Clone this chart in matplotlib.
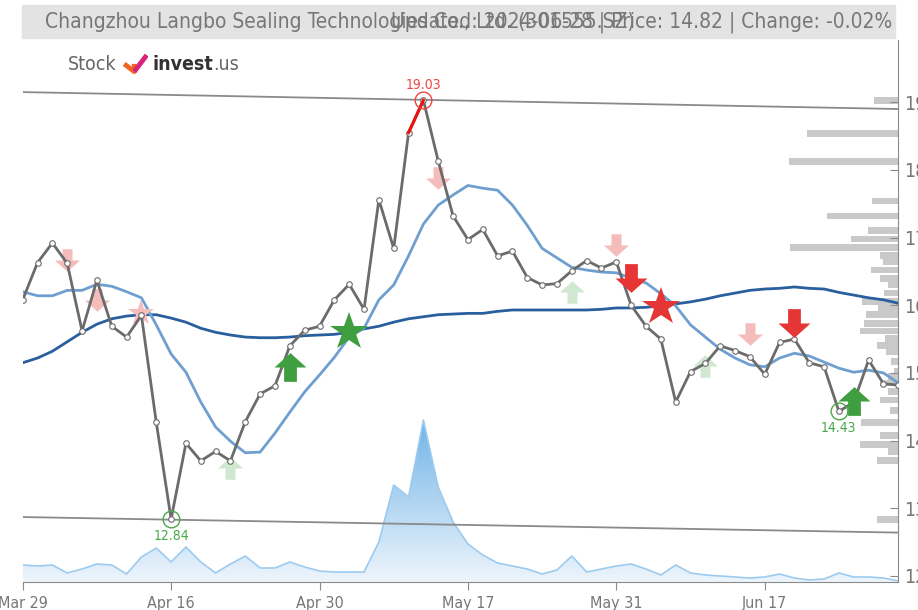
import numpy as np
import matplotlib
matplotlib.use("Agg")
import matplotlib.pyplot as plt
from matplotlib.path import Path
from matplotlib.patches import Rectangle
from matplotlib.colors import LinearSegmentedColormap

plt.rcParams['font.family'] = ['Liberation Sans Narrow', 'DejaVu Sans']
plt.rcParams['font.stretch'] = 'condensed'

# daily closes, 2024-03-29 .. 2024-06-28 (trading days)
close = [16.08, 16.63, 16.92, 16.62, 15.62, 16.37, 15.69, 15.53, 15.85, 14.27,
         12.84, 13.96, 13.70, 13.84, 13.70, 14.28, 14.69, 14.81, 15.40, 15.63,
         15.69, 16.08, 16.31, 15.94, 17.56, 16.84, 18.55, 19.03, 18.13, 17.32,
         16.97, 17.12, 16.73, 16.80, 16.41, 16.30, 16.32, 16.51, 16.66, 16.55,
         16.64, 16.00, 15.69, 15.50, 14.57, 15.02, 15.14, 15.40, 15.33, 15.24,
         14.98, 15.45, 15.50, 15.15, 15.09, 14.43, 14.57, 15.19, 14.84, 14.82]
ma_short = [16.20, 16.14, 16.14, 16.22, 16.22, 16.31, 16.28, 16.20, 16.11, 15.71,
            15.28, 15.01, 14.57, 14.20, 13.99, 13.82, 13.83, 14.11, 14.42, 14.72,
            14.97, 15.23, 15.53, 15.66, 16.08, 16.30, 16.73, 17.20, 17.48, 17.63,
            17.77, 17.73, 17.70, 17.48, 17.18, 16.84, 16.70, 16.56, 16.52, 16.49,
            16.48, 16.40, 16.33, 16.17, 15.99, 15.71, 15.53, 15.35, 15.22, 15.12,
            15.09, 15.22, 15.29, 15.25, 15.16, 15.07, 15.01, 15.04, 15.00, 14.85]
ma_long = [15.15, 15.22, 15.32, 15.46, 15.60, 15.72, 15.80, 15.84, 15.86, 15.86,
           15.81, 15.75, 15.66, 15.60, 15.56, 15.53, 15.52, 15.52, 15.53, 15.55,
           15.56, 15.57, 15.60, 15.65, 15.69, 15.75, 15.80, 15.83, 15.86, 15.87,
           15.88, 15.88, 15.91, 15.93, 15.93, 15.93, 15.93, 15.93, 15.93, 15.94,
           15.96, 15.96, 15.97, 15.99, 16.02, 16.05, 16.09, 16.14, 16.18, 16.22,
           16.24, 16.25, 16.27, 16.25, 16.24, 16.19, 16.15, 16.11, 16.08, 16.03]
volume = [17, 16, 17, 9, 13, 18, 17, 8, 25, 34,
          20, 35, 20, 9, 18, 26, 14, 14, 20, 15,
          11, 10, 10, 10, 40, 97, 85, 162, 95, 60,
          38, 27, 19, 16, 13, 8, 12, 26, 10, 13,
          16, 18, 13, 7, 17, 9, 7, 6, 5, 4,
          5, 8, 4, 2, 3, 9, 5, 5, 4, 1]
tick_idx = [0, 10, 20, 30, 40, 50]
tick_labels = ["Mar 29", "Apr 16", "Apr 30", "May 17", "May 31", "Jun 17"]
price_ticks = [12, 13, 14, 15, 16, 17, 18, 19]

upper_trend = [19.15, 18.90]
lower_trend = [12.87, 12.64]

profile_price = [19.03, 18.54, 18.13, 17.54, 17.32, 17.11, 16.98, 16.85, 16.74, 16.64,
                 16.52, 16.40, 16.30, 16.18, 16.06, 15.95, 15.86, 15.73, 15.62, 15.51,
                 15.41, 15.31, 15.17, 15.03, 14.95, 14.85, 14.73, 14.60, 14.45, 14.27,
                 14.08, 13.94, 13.84, 13.71, 12.83]
profile_vol = [24, 91, 109, 26, 71, 30, 47, 108, 18, 15,
               27, 18, 10, 14, 36, 20, 32, 34, 38, 13,
               21, 12, 7, 4, 10, 18, 10, 18, 8, 37,
               18, 38, 10, 21, 21]

sig_idx = [3, 5, 8, 14, 18, 22, 28, 37, 40, 41, 43, 46, 49, 52, 56]
sig_price = [16.67, 16.08, 15.88, 13.60, 15.09, 15.60, 17.88, 16.19, 16.89, 16.40,
             15.97, 15.10, 15.57, 15.74, 14.58]
sig_kind = ["weak_sell", "weak_sell", "weak_star", "weak_buy", "buy", "buy_star",
            "weak_sell", "weak_buy", "weak_sell", "sell", "sell_star", "weak_buy",
            "weak_sell", "sell", "buy"]

hi_idx, lo_idx, lo2_idx = 27, 10, 55

# ---- figure ----
W, H = 918, 610
fig = plt.figure(figsize=(W / 100, H / 100), dpi=100)
rect = [22.7 / W, 1 - 582 / H, (898.3 - 22.7) / W, (582 - 40) / H]
n = len(close)
x = np.arange(n)
grey_txt = "#777777"

# volume (bottom layer)
axv = fig.add_axes(rect)
vmax = max(volume) * 542 / 162
axv.set_xlim(0, n - 1)
axv.set_ylim(0, vmax)
axv.axis("off")
poly = axv.fill_between(x, volume, 0, color="none", lw=0)
cmap = LinearSegmentedColormap.from_list("vol", ["#eef5fc", "#72b4e7"])
grad = np.linspace(0, 1, 256).reshape(-1, 1)
img = axv.imshow(grad, cmap=cmap, aspect="auto", origin="lower",
                 extent=(0, n - 1, 0, max(volume)), zorder=1)
img.set_clip_path(poly.get_paths()[0], transform=axv.transData)
axv.plot(x, volume, color="#9ccbef", lw=1.2, zorder=2)

# volume profile on the right
axp = fig.add_axes(rect)
axp.set_ylim(11.91, 19.92)
axp.set_xlim(max(profile_vol) * 875.6 / 109, 0)
axp.axis("off")
axp.barh(profile_price, profile_vol, height=0.1, color="#c9c9c9", lw=0)

# main price axes
ax = fig.add_axes(rect)
ax.patch.set_visible(False)
ax.set_xlim(0, n - 1)
ax.set_ylim(11.91, 19.92)

ax.plot([0, n - 1], upper_trend, color="#8a8a8a", lw=1.3, zorder=3)
ax.plot([0, n - 1], lower_trend, color="#8a8a8a", lw=1.3, zorder=3)
ax.plot(x, ma_long, color="#2a5f9e", lw=2.0, zorder=4)
ax.plot(x, ma_short, color="#6f9fd0", lw=2.0, zorder=4)
ax.plot(x, close, color="#6b6b6b", lw=2.0, zorder=5,
        marker="o", ms=4, mfc="white", mec="#6b6b6b", mew=0.8)
ax.plot(x[hi_idx - 1:hi_idx + 1], close[hi_idx - 1:hi_idx + 1], color="#ee1111", lw=2.2, zorder=6)

# high / low annotations
for i, col, dy, va in [(hi_idx, "#ee4444", 6, "bottom"),
                       (lo_idx, "#4aa84a", -7, "top"),
                       (lo2_idx, "#4aa84a", -7, "top")]:
    ax.plot(i, close[i], marker="o", ms=12, mfc="none", mec=col, mew=1.0, zorder=7)
    ax.annotate(f"{close[i]:.2f}", (i, close[i]), xytext=(0, dy), textcoords="offset points",
                ha="center", va=va, color=col, fontsize=10)

# signal markers
up = Path([(-0.4, -0.9), (0.4, -0.9), (0.4, 0), (1, 0), (0, 0.9), (-1, 0), (-0.4, 0), (-0.4, -0.9)],
          [Path.MOVETO] + [Path.LINETO] * 6 + [Path.CLOSEPOLY])
down = Path(up.vertices * [1, -1], up.codes)
styles = {
    "weak_sell": (down, "#f5bcbc", 18),
    "weak_star": ("*", "#f5bcbc", 20),
    "weak_buy": (up, "#cfe8cf", 18),
    "buy": (up, "#3f9e3f", 23),
    "buy_star": ("*", "#3f9e3f", 29),
    "sell": (down, "#e53535", 23),
    "sell_star": ("*", "#e53535", 29),
}
for i, p, k in zip(sig_idx, sig_price, sig_kind):
    m, c, s = styles[k]
    ax.plot(i, p, marker=m, ms=s, color=c, mec=c, mew=0,
            zorder=4.5 if k.startswith("weak") else 8)

# axes styling
for side in ["left", "top"]:
    ax.spines[side].set_visible(False)
ax.spines["right"].set_color("#8a8a8a")
ax.spines["bottom"].set_color("#8a8a8a")
ax.yaxis.tick_right()
ax.set_yticks(price_ticks)
ax.set_yticklabels([str(t) for t in price_ticks])
ax.tick_params(axis="y", direction="in", length=6, pad=4, colors="#8a8a8a",
               labelcolor=grey_txt, labelsize=14)
ax.set_xticks(tick_idx)
ax.set_xticklabels(tick_labels)
ax.tick_params(axis="x", direction="out", length=6, pad=4, colors="#8a8a8a",
               labelcolor=grey_txt, labelsize=11.5)

# title bar
fig.patches.append(Rectangle((22 / W, 1 - 38 / H), 873 / W, 33 / H, transform=fig.transFigure,
                             color="#e3e3e3", zorder=0))
fig.text(45 / W, 1 - 22 / H, "Changzhou Langbo Sealing Technologies Co., Ltd. (301555.SZ)",
         ha="left", va="center", fontsize=15, color=grey_txt)
fig.text(892 / W, 1 - 22 / H, "Updated: 2024-06-28 | Price: 14.82 | Change: -0.02%",
         ha="right", va="center", fontsize=15, color=grey_txt)

# logo
fig.text(68 / W, 1 - 65 / H, "Stock", ha="left", va="center", fontsize=14, color="#666666")
axl = fig.add_axes([123 / W, 1 - 76 / H, 25 / W, 22 / H])
axl.axis("off")
axl.set_xlim(0, 1)
axl.set_ylim(0, 1)
axl.plot([0.05, 0.45, 0.45], [0.55, 0.2, 0.55], color="#f26522", lw=3.5, solid_capstyle="butt")
axl.plot([0.45, 0.95], [0.2, 0.95], color="#d6247a", lw=3.5, solid_capstyle="butt")
fig.text(152 / W, 1 - 65 / H, "invest", ha="left", va="center", fontsize=14,
         color="#333333", fontweight="bold")
fig.text(213 / W, 1 - 65 / H, ".us", ha="left", va="center", fontsize=14, color="#666666")

fig.savefig("out.png", dpi=100)
